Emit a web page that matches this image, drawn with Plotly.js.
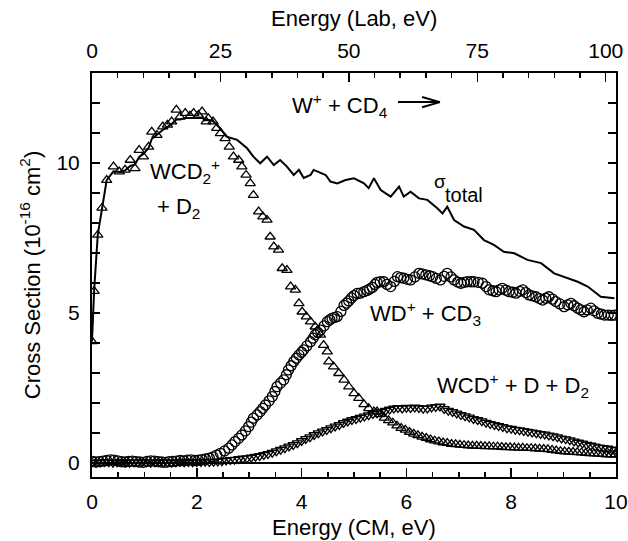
<!DOCTYPE html>
<html>
<head>
<meta charset="utf-8">
<script src="https://cdn.plot.ly/plotly-3.0.1.min.js"></script>
<style>html,body{margin:0;padding:0;background:#fff;}#chart{width:628px;height:541px;}</style>
</head>
<body>
<div id="chart"></div>
<script>
// ---- data ----
const totalX = [0,0.04,0.11,0.19,0.28,0.41,0.52,0.63,0.73,0.82,0.9,0.98,1.08,1.14,1.24,1.35,1.44,1.52,1.61,1.68,1.78,1.87,1.94,2.03,2.1,2.18,2.31,2.45,2.57,2.77,2.96,3.08,3.21,3.34,3.47,3.59,3.72,3.85,3.95,4.04,4.17,4.23,4.36,4.46,4.55,4.68,4.84,5.0,5.19,5.28,5.38,5.51,5.7,5.86,5.95,6.08,6.24,6.4,6.59,6.69,6.78,6.91,7.1,7.29,7.48,7.67,7.86,8.06,8.31,8.57,8.82,9.08,9.27,9.46,9.71,9.97];
const totalY = [4.05,5.73,7.6,8.5,9.43,9.72,9.7,9.75,9.9,9.95,10.2,10.3,10.5,10.8,10.95,11.1,11.2,11.3,11.45,11.45,11.5,11.5,11.5,11.5,11.5,11.45,11.4,11.15,10.88,10.77,10.49,10.21,9.99,10.21,9.93,10.1,9.88,9.6,9.77,9.5,9.6,9.77,9.66,9.6,9.38,9.32,9.43,9.49,9.32,9.16,9.49,9.1,8.88,9.21,8.88,9.04,8.82,8.77,8.49,8.32,8.54,8.1,7.88,7.77,7.43,7.27,7.04,6.99,6.77,6.66,6.32,6.16,6.04,5.88,5.54,5.49];

// WCD2+ + D2 (open up-triangles)
const wcd2X = [0,0.04,0.11,0.19,0.28,0.41,0.52,0.63,0.73,0.82,0.9,0.98,1.08,1.14,1.24,1.35,1.44,1.52,1.61,1.68,1.78,1.87,1.94,2.03,2.1,2.18,2.22,2.31,2.38,2.45,2.54,2.62,2.7,2.8,2.86,2.94,3.02,3.08,3.18,3.26,3.34,3.4,3.47,3.56,3.63,3.72,3.79,3.88,3.95,4.01,4.09,4.17,4.26,4.36,4.42,4.49,4.52,4.61,4.71,4.81,4.9,5.0,5.09,5.19,5.28,5.38,5.44,5.5,5.58,5.66,5.74,5.82,5.9,5.98,6.06,6.14,6.22,6.3,6.38,6.46,6.54,6.62,6.7,6.78,6.86,6.94,7.02,7.1,7.18,7.26,7.34,7.42,7.5,7.58,7.66,7.74,7.82,7.9,7.98,8.06,8.14,8.22,8.3,8.38,8.46,8.54,8.62,8.7,8.78,8.86,8.94,9.02,9.1,9.18,9.26,9.34,9.42,9.5,9.58,9.66,9.74,9.82,9.9,9.98];
const wcd2Y = [4.05,5.73,7.6,8.5,9.43,9.88,9.71,9.77,10.1,9.82,10.43,10.21,10.54,11.04,10.93,11.21,11.27,11.38,11.77,11.54,11.66,11.57,11.66,11.6,11.71,11.38,11.49,11.38,11.16,10.99,10.82,10.54,10.21,10.1,9.88,9.6,9.32,8.93,8.38,8.21,8.1,7.54,7.21,7.1,6.49,6.43,5.88,5.77,5.32,5.04,4.88,4.71,4.54,4.27,3.93,3.71,3.38,3.21,2.99,2.77,2.54,2.32,2.16,1.95,1.82,1.71,1.71,1.62,1.5,1.42,1.34,1.24,1.16,1.1,1.03,0.97,0.92,0.87,0.83,0.78,0.74,0.71,0.68,0.66,0.63,0.62,0.6,0.59,0.58,0.57,0.57,0.56,0.55,0.55,0.54,0.54,0.53,0.52,0.52,0.51,0.5,0.5,0.49,0.49,0.48,0.47,0.46,0.45,0.43,0.41,0.39,0.38,0.37,0.36,0.35,0.34,0.33,0.32,0.31,0.3,0.29,0.28,0.28,0.27];

// WD+ + CD3 (open circles)
const wdX = [0,0.07,0.14,0.21,0.28,0.35,0.42,0.49,0.56,0.63,0.7,0.77,0.84,0.91,0.98,1.05,1.12,1.19,1.26,1.33,1.4,1.47,1.54,1.61,1.68,1.75,1.82,1.89,1.96,2.03,2.1,2.17,2.24,2.31,2.38,2.45,2.53,2.61,2.67,2.73,2.8,2.86,2.93,2.99,3.04,3.08,3.15,3.21,3.26,3.31,3.38,3.44,3.49,3.53,3.6,3.66,3.71,3.75,3.8,3.85,3.9,3.95,4.0,4.04,4.1,4.17,4.22,4.26,4.31,4.36,4.43,4.49,4.54,4.58,4.63,4.68,4.75,4.81,4.86,4.9,4.95,5.0,5.06,5.12,5.19,5.25,5.3,5.35,5.4,5.44,5.5,5.57,5.63,5.7,5.77,5.83,5.89,5.95,6.02,6.08,6.16,6.24,6.3,6.37,6.44,6.5,6.57,6.65,6.72,6.78,6.85,6.91,6.98,7.04,7.1,7.16,7.23,7.29,7.37,7.45,7.52,7.58,7.65,7.71,7.77,7.83,7.9,7.96,8.03,8.09,8.16,8.22,8.28,8.34,8.4,8.47,8.54,8.6,8.66,8.72,8.79,8.85,8.93,9.01,9.08,9.14,9.2,9.27,9.33,9.39,9.45,9.52,9.58,9.65,9.72,9.78,9.85,9.91,9.97];
const wdY = [0.05,0.03,0.04,0.06,0.08,0.1,0.09,0.07,0.04,0.03,0.05,0.06,0.04,0.03,0.02,0.05,0.07,0.06,0.04,0.03,0.02,0.04,0.05,0.06,0.08,0.07,0.09,0.1,0.08,0.09,0.11,0.13,0.16,0.2,0.26,0.32,0.4,0.49,0.6,0.71,0.82,0.93,1.07,1.21,1.36,1.49,1.6,1.71,1.82,1.93,2.07,2.21,2.38,2.54,2.66,2.77,2.94,3.1,3.24,3.38,3.49,3.6,3.69,3.77,3.9,4.04,4.16,4.27,4.35,4.43,4.57,4.71,4.77,4.82,4.85,4.88,5.05,5.25,5.33,5.4,5.5,5.58,5.65,5.66,5.71,5.75,5.8,5.85,5.95,6.02,6.04,6.04,5.95,5.88,6.05,6.21,6.18,6.16,6.12,6.1,6.2,6.32,6.3,6.27,6.24,6.21,6.15,6.1,6.22,6.32,6.2,6.1,6.03,5.99,6.02,6.04,6.04,6.04,6.02,5.99,5.88,5.77,5.74,5.71,5.77,5.82,5.76,5.71,5.69,5.66,5.72,5.77,5.68,5.6,5.57,5.54,5.48,5.43,5.49,5.54,5.46,5.38,5.3,5.21,5.27,5.32,5.24,5.16,5.1,5.04,5.1,5.16,5.07,4.99,4.96,4.93,4.93,4.92,4.93];

// WCD+ + D + D2 (open down-triangles)
const wcdX = [0,0.08,0.16,0.24,0.32,0.4,0.48,0.56,0.64,0.72,0.8,0.88,0.96,1.04,1.12,1.2,1.28,1.36,1.44,1.52,1.6,1.68,1.76,1.84,1.92,2.0,2.08,2.16,2.24,2.32,2.4,2.48,2.56,2.64,2.72,2.8,2.88,2.96,3.04,3.12,3.2,3.28,3.36,3.44,3.52,3.6,3.68,3.76,3.84,3.92,4.0,4.08,4.16,4.24,4.32,4.4,4.48,4.56,4.64,4.72,4.8,4.88,4.96,5.04,5.12,5.2,5.28,5.36,5.44,5.52,5.6,5.68,5.76,5.84,5.92,6.0,6.08,6.16,6.24,6.32,6.4,6.48,6.56,6.64,6.72,6.8,6.88,6.96,7.04,7.12,7.2,7.28,7.36,7.44,7.52,7.6,7.68,7.76,7.84,7.92,8.0,8.08,8.16,8.24,8.32,8.4,8.48,8.56,8.64,8.72,8.8,8.88,8.96,9.04,9.12,9.2,9.28,9.36,9.44,9.52,9.6,9.68,9.76,9.84,9.92,10.0];
const wcdY = [0.02,0.01,0.02,0.03,0.02,0.01,0.02,0.03,0.02,0.01,0.02,0.02,0.03,0.02,0.01,0.02,0.03,0.02,0.02,0.01,0.02,0.03,0.02,0.03,0.02,0.03,0.03,0.04,0.03,0.04,0.05,0.06,0.08,0.1,0.11,0.13,0.15,0.16,0.18,0.21,0.23,0.27,0.3,0.34,0.39,0.44,0.49,0.55,0.6,0.66,0.73,0.8,0.86,0.93,0.99,1.05,1.1,1.16,1.22,1.27,1.33,1.38,1.43,1.47,1.51,1.55,1.59,1.63,1.66,1.7,1.74,1.78,1.82,1.83,1.82,1.84,1.83,1.85,1.83,1.81,1.82,1.85,1.87,1.88,1.8,1.74,1.7,1.65,1.6,1.56,1.52,1.47,1.43,1.39,1.34,1.3,1.27,1.23,1.2,1.16,1.14,1.11,1.09,1.07,1.04,1.02,0.99,0.97,0.95,0.92,0.89,0.86,0.82,0.79,0.76,0.72,0.68,0.65,0.61,0.58,0.55,0.52,0.5,0.48,0.45,0.43];

const cmRange = [0, 10];
const labRange = [0, 102];
const yRange = [-0.47, 13];
const cmTicks = [0, 2, 4, 6, 8, 10];
const labTicks = [0, 25, 50, 75, 100];
const yTicks = [0, 5, 10];

const FONT = 'Liberation Sans, Arial, Helvetica, sans-serif';
const mk = (sym, size) => ({symbol: sym, size: size, color: '#000', line: {width: 1.3, color: '#000'}});

const traces = [
  {x: totalX, y: totalY, mode: 'lines', line: {color: '#000', width: 2}, hoverinfo: 'skip', showlegend: false},
  {x: wcdX, y: wcdY, mode: 'markers', marker: mk('triangle-down-open', 9), showlegend: false},
  {x: wdX, y: wdY, mode: 'markers', marker: mk('circle-open', 10), showlegend: false},
  {x: wcd2X, y: wcd2Y, mode: 'markers', marker: mk('triangle-up-open', 9), showlegend: false},
  {x: labRange, y: [null, null], xaxis: 'x2', mode: 'lines', hoverinfo: 'skip', showlegend: false}
];

const annFont = {family: FONT, size: 22, color: '#000'};
const layout = {
  width: 628, height: 541,
  margin: {l: 92, r: 12, t: 73, b: 64, pad: 0},
  paper_bgcolor: '#fff', plot_bgcolor: '#fff',
  font: {family: FONT, color: '#000', size: 21},
  xaxis: {
    range: cmRange, tickvals: cmTicks, ticks: 'inside', ticklen: 9, tickwidth: 1.5, tickcolor: '#000',
    minor: {dtick: 0.5, ticks: 'inside', ticklen: 5, tickwidth: 1.5, tickcolor: '#000'},
    showline: true, linecolor: '#000', linewidth: 2, mirror: false, showgrid: false, zeroline: false,
    tickfont: {family: FONT, size: 21}, ticklabelstandoff: 5
  },
  xaxis2: {
    range: labRange, tickvals: labTicks, overlaying: 'x', side: 'top', anchor: 'y',
    ticks: 'inside', ticklen: 9, tickwidth: 1.5, tickcolor: '#000',
    minor: {dtick: 5, ticks: 'inside', ticklen: 5, tickwidth: 1.5, tickcolor: '#000'},
    showline: true, linecolor: '#000', linewidth: 2, showgrid: false, zeroline: false,
    tickfont: {family: FONT, size: 21}, ticklabelstandoff: 5
  },
  yaxis: {
    range: yRange, tickvals: yTicks, ticks: 'inside', ticklen: 8, tickwidth: 1.5, tickcolor: '#000',
    minor: {dtick: 1, ticks: 'inside', ticklen: 6, tickwidth: 1.5, tickcolor: '#000'},
    showline: true, linecolor: '#000', linewidth: 2, mirror: 'allticks', showgrid: false,
    zeroline: true, zerolinecolor: '#000', zerolinewidth: 1.5,
    tickfont: {family: FONT, size: 21}, ticklabelstandoff: 6,
    title: {text: 'Cross Section (10<sup>-16</sup> cm<sup>2</sup>)', font: {family: FONT, size: 22}, standoff: 10}
  },
  annotations: [
    {x: 0.5, y: -0.124, xref: 'paper', yref: 'paper', xanchor: 'center', yanchor: 'middle', showarrow: false, text: 'Energy (CM, eV)', font: annFont},
    {x: 0.5, y: 1.136, xref: 'paper', yref: 'paper', xanchor: 'center', yanchor: 'middle', showarrow: false, text: 'Energy (Lab, eV)', font: annFont},
    {x: 3.78, y: 11.93, xref: 'x', yref: 'y', xanchor: 'left', yanchor: 'middle', showarrow: false, text: 'W<sup>+</sup> + CD<sub>4</sub>', font: annFont},
    {x: 1.07, y: 9.7, xref: 'x', yref: 'y', xanchor: 'left', yanchor: 'middle', showarrow: false, text: 'WCD<sub>2</sub><sup>+</sup>', font: annFont},
    {x: 1.2, y: 8.5, xref: 'x', yref: 'y', xanchor: 'left', yanchor: 'middle', showarrow: false, text: '+ D<sub>2</sub>', font: annFont},
    {x: 6.49, y: 9.37, xref: 'x', yref: 'y', xanchor: 'left', yanchor: 'middle', showarrow: false, text: 'σ', font: {family: FONT, size: 19, color: '#000'}},
    {x: 6.69, y: 8.93, xref: 'x', yref: 'y', xanchor: 'left', yanchor: 'middle', showarrow: false, text: 'total', font: {family: FONT, size: 20, color: '#000'}},
    {x: 5.27, y: 4.97, xref: 'x', yref: 'y', xanchor: 'left', yanchor: 'middle', showarrow: false, text: 'WD<sup>+</sup> + CD<sub>3</sub>', font: annFont},
    {x: 6.55, y: 2.57, xref: 'x', yref: 'y', xanchor: 'left', yanchor: 'middle', showarrow: false, text: 'WCD<sup>+</sup> + D + D<sub>2</sub>', font: annFont}
  ],
  shapes: [
    {type: 'line', xref: 'x', yref: 'y', x0: 5.84, y0: 12.03, x1: 6.64, y1: 12.03, line: {color: '#000', width: 2}},
    {type: 'line', xref: 'x', yref: 'y', x0: 6.3, y0: 12.2, x1: 6.64, y1: 12.03, line: {color: '#000', width: 2}},
    {type: 'line', xref: 'x', yref: 'y', x0: 6.3, y0: 11.86, x1: 6.64, y1: 12.03, line: {color: '#000', width: 2}}
  ]
};

Plotly.newPlot('chart', traces, layout, {displayModeBar: false, staticPlot: true});
</script>
</body>
</html>
